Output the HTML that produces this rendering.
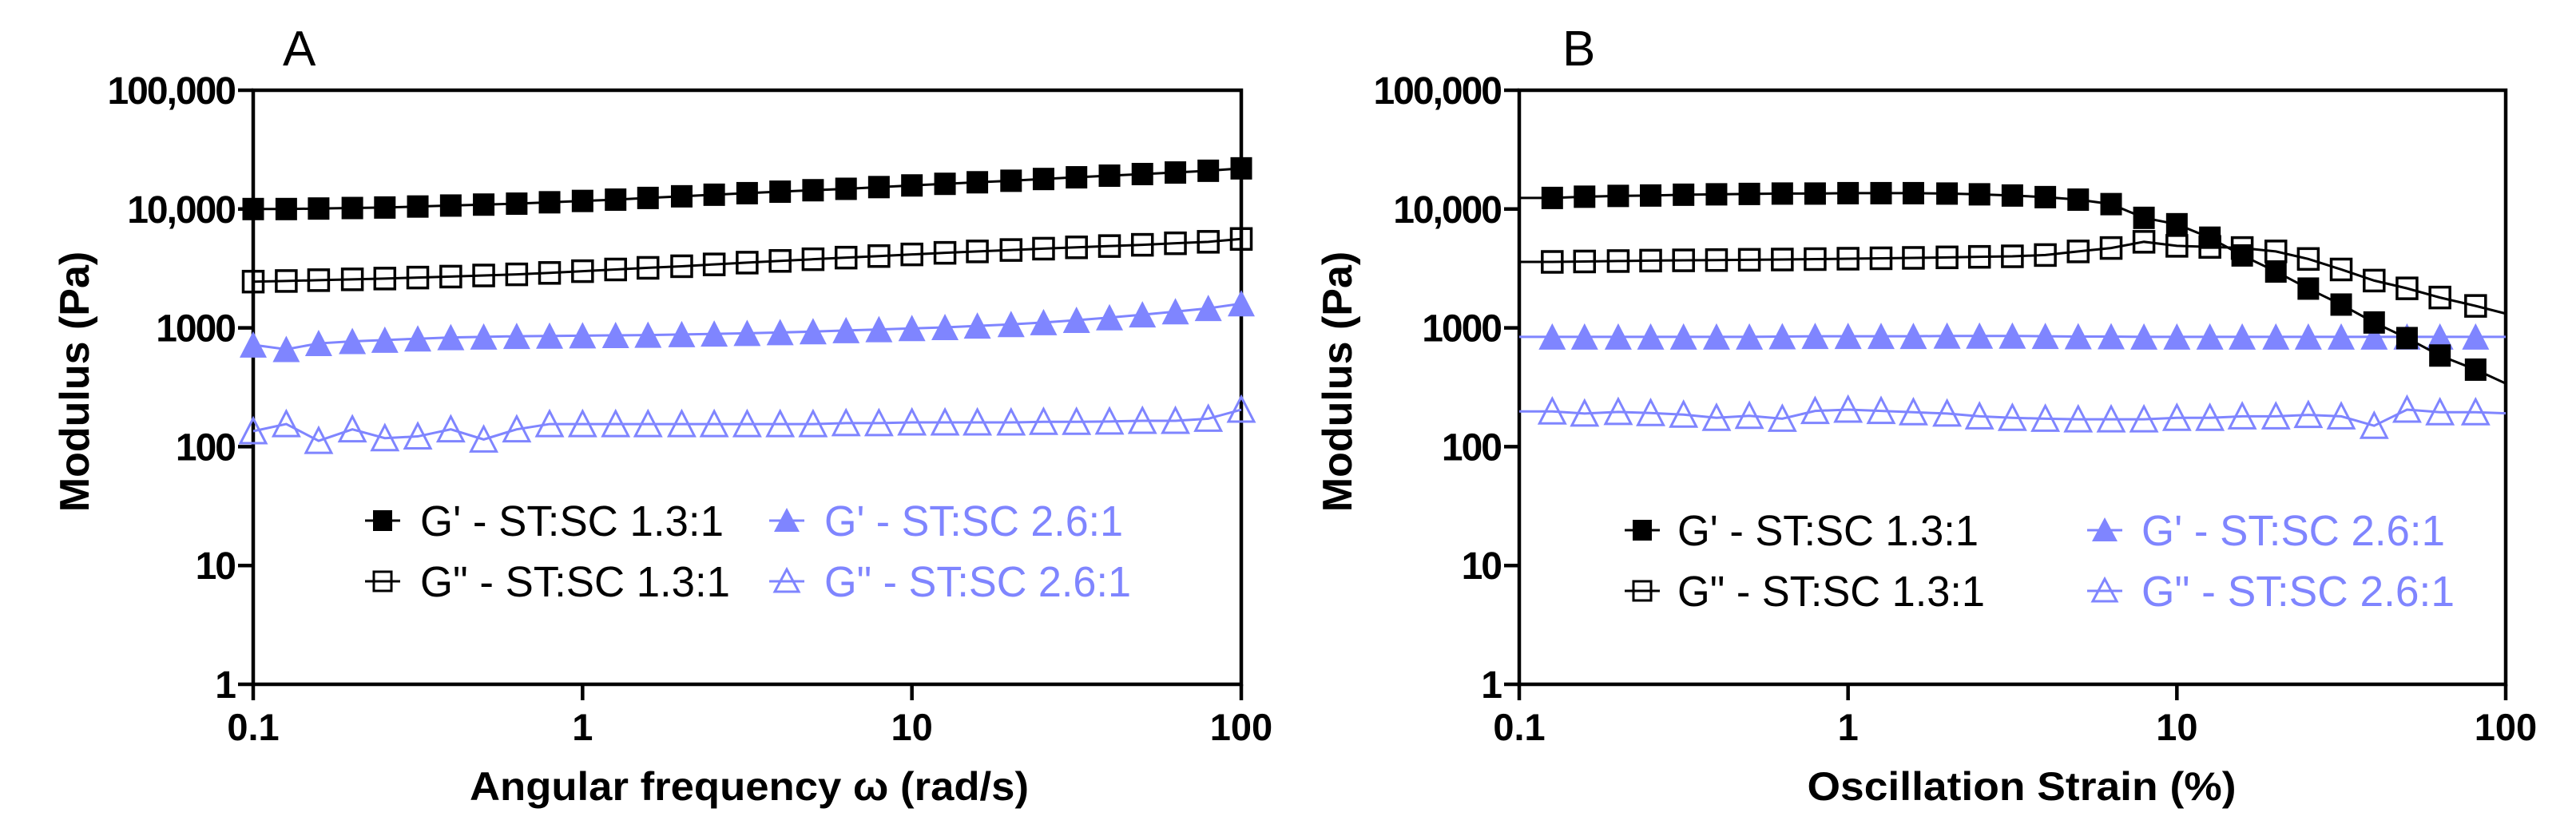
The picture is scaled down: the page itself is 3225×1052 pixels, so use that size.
<!DOCTYPE html>
<html><head><meta charset="utf-8"><style>
html,body{margin:0;padding:0;background:#fff;}
svg{display:block;}
text{font-family:"Liberation Sans",Arial,sans-serif;}
</style></head>
<body>
<svg id="chart" xmlns="http://www.w3.org/2000/svg" width="3225" height="1052" viewBox="0 0 3225 1052">
<rect width="3225" height="1052" fill="#fff"/>
</svg>
<script>
// ---------- data ----------
const yTickLabels = ["1","10","100","1000","10,000","100,000"];
const yTickValues = [1,10,100,1000,10000,100000];
const xTickLabels = ["0.1","1","10","100"];
const xTickValues = [0.1,1,10,100];

// Panel A: angular frequency (rad/s)
const freqA = [0.1,0.126,0.158,0.2,0.251,0.316,0.398,0.501,0.631,0.794,1,1.26,1.58,2,2.51,3.16,3.98,5.01,6.31,7.94,10,12.6,15.8,20,25.1,31.6,39.8,50.1,63.1,79.4,100];
const gp13A  = [10000,10000,10100,10200,10300,10500,10700,10900,11100,11400,11700,12000,12400,12800,13200,13600,14000,14400,14800,15300,15800,16300,16800,17300,17900,18500,19100,19700,20300,21000,22000];
const gpp13A = [2450,2480,2520,2560,2600,2650,2700,2760,2820,2900,3000,3100,3200,3300,3420,3540,3660,3780,3900,4020,4150,4280,4400,4520,4640,4760,4880,5000,5150,5300,5600];
const gp26A  = [720,660,740,770,790,810,830,840,850,855,860,865,870,880,890,900,915,930,950,970,990,1010,1040,1070,1110,1160,1220,1290,1370,1460,1600];
const gpp26A = [135,155,112,140,118,122,140,115,140,155,155,155,155,155,155,155,155,155,158,158,160,160,160,160,162,162,163,165,165,172,205];

// Panel B: oscillation strain (%)
const strainB = [0.126,0.158,0.2,0.251,0.316,0.398,0.501,0.631,0.794,1,1.26,1.58,2,2.51,3.16,3.98,5.01,6.31,7.94,10,12.6,15.8,20,25.1,31.6,39.8,50.1,63.1,81];
const gp13B  = [12400,12700,12900,13000,13200,13300,13400,13500,13500,13600,13600,13600,13500,13300,13000,12600,12000,11000,8430,7450,5740,4070,2980,2140,1570,1110,820,585,445];
const gpp13B = [3590,3620,3650,3680,3700,3720,3740,3760,3790,3820,3850,3880,3920,3960,4000,4100,4400,4700,5300,4900,4800,4700,4400,3800,3100,2500,2150,1800,1530];
const gp26B  = [840,840,840,840,840,840,840,845,850,850,850,850,855,855,855,850,845,845,840,840,840,840,840,840,840,840,840,840,840];
const gpp26B = [198,190,196,192,186,175,182,172,200,205,200,195,190,180,175,172,170,170,170,175,175,180,180,185,180,150,205,195,195];

// ---------- drawing ----------
const NS = "http://www.w3.org/2000/svg";
const svg = document.getElementById("chart");
const BLACK = "#000", BLUE = "#7f85ff";
function mk(tag, attrs, parent){
  const e = document.createElementNS(NS, tag);
  for (const k in attrs) e.setAttribute(k, attrs[k]);
  (parent||svg).appendChild(e);
  return e;
}
function txt(str, attrs, parent){ const t = mk("text", attrs, parent); t.textContent = str; return t; }

function makeAxes(x0, x1, yTop, yBot){
  const sx = v => x0 + (Math.log10(v) + 1) / 3 * (x1 - x0);
  const sy = v => yBot - Math.log10(v) / 5 * (yBot - yTop);
  return {sx, sy, x0, x1, yTop, yBot};
}

function marker(g, type, cx, cy, color){
  let m;
  if (type === "sqf") m = mk("rect", {x:cx-13.5, y:cy-14, width:27, height:28, fill:color}, g);
  else if (type === "sqo") m = mk("rect", {x:cx-12.5, y:cy-13, width:25, height:26, fill:"none", stroke:color, "stroke-width":3.5}, g);
  else if (type === "trf") m = mk("polygon", {points:`${cx},${cy-17} ${cx-17},${cy+16} ${cx+17},${cy+16}`, fill:color}, g);
  else m = mk("polygon", {points:`${cx},${cy-16} ${cx-16},${cy+15} ${cx+16},${cy+15}`, fill:"none", stroke:color, "stroke-width":3}, g);
  return m;
}

function series(ax, g, xs, ys, type, color, extend){
  const pts = xs.map((x,i)=>[ax.sx(x), ax.sy(ys[i])]);
  let line = pts.slice();
  if (extend){
    const n = xs.length;
    const ly = Math.log10(ys[0]);
    line.unshift([ax.x0, ax.sy(Math.pow(10, ly))]);
    const slope = (Math.log10(ys[n-1]) - Math.log10(ys[n-3])) / (Math.log10(xs[n-1]) - Math.log10(xs[n-3]));
    const endV = Math.pow(10, Math.log10(ys[n-1]) + slope * (2 - Math.log10(xs[n-1])));
    line.push([ax.x1, ax.sy(endV)]);
  }
  const p = mk("polyline", {points: line.map(q=>q.join(",")).join(" "), fill:"none", stroke:color, "stroke-width":3}, g);
  
  
  pts.forEach(q => {
    const m = marker(g, type, q[0], q[1], color);
    
    
  });
}

function panel(opts){
  const ax = makeAxes(opts.x0, opts.x1, 113, 857);
  const g = mk("g", {});
  
  
  const L = txt(opts.letter, {x:opts.letterX, y:82, "font-size":62, fill:"#000"}, g);
  
  
  const fr = mk("rect", {x:ax.x0, y:ax.yTop, width:ax.x1-ax.x0, height:ax.yBot-ax.yTop, fill:"none", stroke:"#000", "stroke-width":4.5}, g);
  
  
  yTickValues.forEach((v,i)=>{
    const y = ax.sy(v);
    mk("line", {x1:ax.x0-19, x2:ax.x0, y1:y, y2:y, stroke:"#000", "stroke-width":4.5}, g);
    const t = txt(yTickLabels[i], {x:ax.x0-23, y:y+17, "font-size":48, "font-weight":"bold", "text-anchor":"end", fill:"#000", "letter-spacing":-2}, g);
    
    
  });
  xTickValues.forEach((v,i)=>{
    const x = ax.sx(v);
    mk("line", {x1:x, x2:x, y1:ax.yBot, y2:ax.yBot+20, stroke:"#000", "stroke-width":4.5}, g);
    const t = txt(xTickLabels[i], {x:x, y:927, "font-size":47, "font-weight":"bold", "text-anchor":"middle", fill:"#000"}, g);
    
    
  });
  const yt = txt("Modulus (Pa)", {x:0, y:0, "font-size":52, "font-weight":"bold", "text-anchor":"middle", fill:"#000", transform:`translate(${opts.yTitleX},478) rotate(-90)`}, g);
  
  
  const xt = txt(opts.xTitle, {x:opts.xTitleX, y:1002, "font-size":50, "font-weight":"bold", "text-anchor":"middle", fill:"#000", textLength:opts.xTitleW, lengthAdjust:"spacingAndGlyphs"}, g);
  
  
  series(ax, g, opts.xs, opts.s[3], "tro", BLUE, opts.extend);
  series(ax, g, opts.xs, opts.s[2], "trf", BLUE, opts.extend);
  series(ax, g, opts.xs, opts.s[1], "sqo", BLACK, opts.extend);
  series(ax, g, opts.xs, opts.s[0], "sqf", BLACK, opts.extend);
  const lg = opts.legend;
  const entries = [
    {t:"G' - ST:SC 1.3:1", type:"sqf", c:BLACK, mx:lg.m1, tx:lg.t1, y:lg.r1, w:lg.w1},
    {t:"G\" - ST:SC 1.3:1", type:"sqo", c:BLACK, mx:lg.m1, tx:lg.t1, y:lg.r2, w:lg.w2},
    {t:"G' - ST:SC 2.6:1", type:"trf", c:BLUE, mx:lg.m2, tx:lg.t2, y:lg.r1, w:lg.w3},
    {t:"G\" - ST:SC 2.6:1", type:"tro", c:BLUE, mx:lg.m2, tx:lg.t2, y:lg.r2, w:lg.w4}
  ];
  entries.forEach(e=>{
    const eg = mk("g", {}, g);
    
    
    mk("line", {x1:e.mx-22, x2:e.mx+22, y1:e.y, y2:e.y, stroke:e.c, "stroke-width":3}, eg);
    if (e.type==="sqf") mk("rect", {x:e.mx-12, y:e.y-13, width:24, height:26, fill:e.c}, eg);
    else if (e.type==="sqo") mk("rect", {x:e.mx-11, y:e.y-12, width:22, height:24, fill:"none", stroke:e.c, "stroke-width":3}, eg);
    else if (e.type==="trf") mk("polygon", {points:`${e.mx},${e.y-16} ${e.mx-16},${e.y+14} ${e.mx+16},${e.y+14}`, fill:e.c}, eg);
    else mk("polygon", {points:`${e.mx},${e.y-15} ${e.mx-15},${e.y+13} ${e.mx+15},${e.y+13}`, fill:"none", stroke:e.c, "stroke-width":3}, eg);
    txt(e.t, {x:e.tx, y:e.y+19, "font-size":54, fill:e.c, textLength:e.w, lengthAdjust:"spacingAndGlyphs"}, eg);
  });
}

panel({name:"panel-a", letter:"A", letterX:354, x0:317, x1:1554, yTitleX:111,
  xTitle:"Angular frequency \u03c9 (rad/s)", xTitleX:938, xTitleW:700,
  xs:freqA, s:[gp13A, gpp13A, gp26A, gpp26A], extend:false,
  legend:{m1:479, t1:526, m2:985, t2:1032, r1:652, r2:728, w1:380, w2:388, w3:374, w4:384}});
panel({name:"panel-b", letter:"B", letterX:1956, x0:1902, x1:3137, yTitleX:1692,
  xTitle:"Oscillation Strain (%)", xTitleX:2531, xTitleW:537,
  xs:strainB, s:[gp13B, gpp13B, gp26B, gpp26B], extend:true,
  legend:{m1:2056, t1:2100, m2:2635, t2:2681, r1:664, r2:740, w1:377, w2:385, w3:380, w4:392}});
</script>
</body></html>
